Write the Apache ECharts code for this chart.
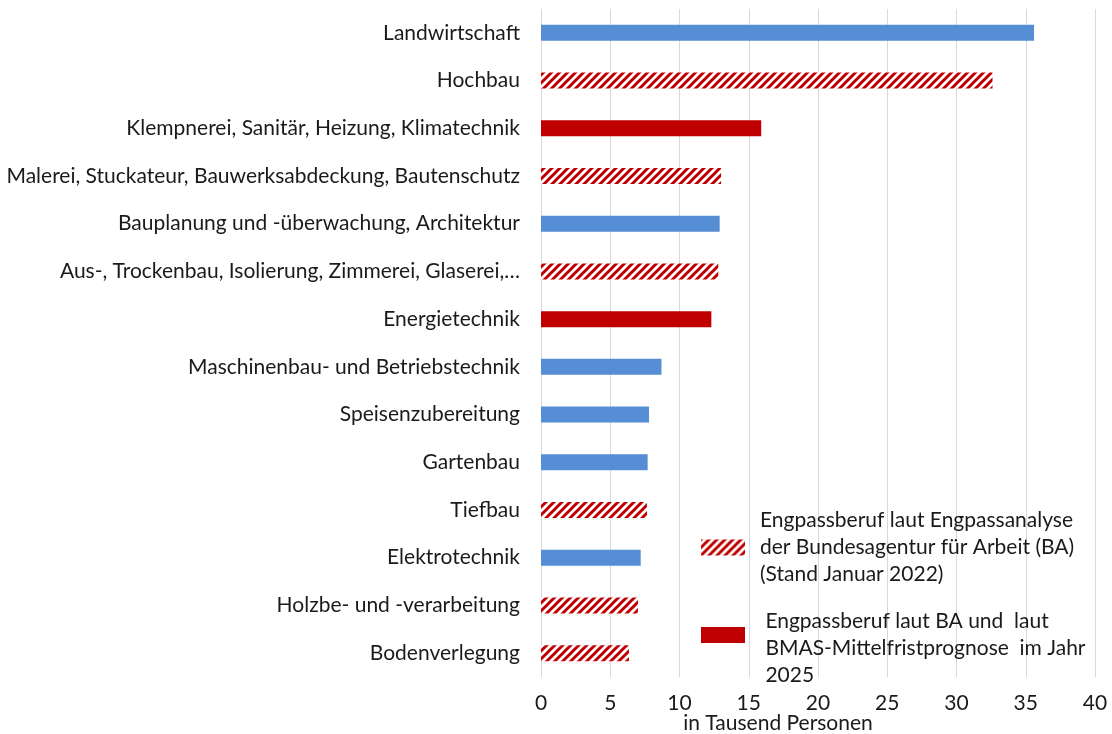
<!DOCTYPE html>
<html>
<head>
<meta charset="utf-8">
<script src="https://cdn.jsdelivr.net/npm/echarts@6/dist/echarts.min.js"></script>
<style>
    html, body { margin: 0; padding: 0; background: #fff; }
    #chart { width: 1112px; height: 734px; }
</style>
</head>
<body>
<div id="chart"></div>
<script>
const categories = [
    'Landwirtschaft',
    'Hochbau',
    'Klempnerei, Sanitär, Heizung, Klimatechnik',
    'Malerei, Stuckateur, Bauwerksabdeckung, Bautenschutz',
    'Bauplanung und -überwachung, Architektur',
    'Aus-, Trockenbau, Isolierung, Zimmerei, Glaserei,…',
    'Energietechnik',
    'Maschinenbau- und Betriebstechnik',
    'Speisenzubereitung',
    'Gartenbau',
    'Tiefbau',
    'Elektrotechnik',
    'Holzbe- und -verarbeitung',
    'Bodenverlegung'
];
const values = [35.6, 32.6, 15.9, 13.0, 12.9, 12.8, 12.3, 8.7, 7.8, 7.7, 7.65, 7.2, 7.0, 6.35];
// 'none' = kein Engpassberuf, 'ba' = Engpassanalyse BA, 'bmas' = BA + BMAS-Prognose
const kinds = ['none', 'ba', 'bmas', 'ba', 'none', 'ba', 'bmas', 'none', 'none', 'none', 'ba', 'none', 'ba', 'ba'];
const xTicks = [0, 5, 10, 15, 20, 25, 30, 35, 40];

const nameBA = 'Engpassberuf laut Engpassanalyse\nder Bundesagentur für Arbeit (BA)\n(Stand Januar 2022)';
const nameBMAS = ' Engpassberuf laut BA und  laut\n BMAS-Mittelfristprognose  im Jahr\n 2025';

const BLUE = '#558ED5';
const RED = '#C00000';
const FONT = 'Lato';
const FONT_SIZE = 21;
const TEXT_COLOR = '#1a1a1a';

function hatchPattern() {
    const c = document.createElement('canvas');
    c.width = 8;
    c.height = 8;
    const ctx = c.getContext('2d');
    ctx.fillStyle = '#fff';
    ctx.fillRect(0, 0, 8, 8);
    ctx.strokeStyle = RED;
    ctx.lineWidth = 3;
    ctx.beginPath();
    ctx.moveTo(-2, 10); ctx.lineTo(10, -2);
    ctx.moveTo(-6, 6); ctx.lineTo(6, -6);
    ctx.moveTo(2, 14); ctx.lineTo(14, 2);
    ctx.stroke();
    return { image: c, repeat: 'repeat' };
}

const pick = (kind) => values.map((v, i) => kinds[i] === kind ? v : '-');

const myChart = echarts.init(document.getElementById('chart'));

const seriesDefaults = {
    type: 'bar',
    stack: 'all',
    barWidth: 16,
    animation: false
};

const option = {
    textStyle: { fontFamily: FONT },
    grid: {
        left: 541,
        right: 17,
        top: 9,
        bottom: 57,
        outerBoundsMode: 'none'
    },
    legend: {
        data: [nameBA, nameBMAS],
        // leading blank line lifts the icon of the second entry like in the original
        formatter: (name) => name === nameBMAS ? '\n' + name : name,
        orient: 'vertical',
        left: 701,
        top: 507,
        padding: 0,
        icon: 'rect',
        itemWidth: 44,
        itemHeight: 16,
        itemGap: -7,
        selectedMode: false,
        textStyle: {
            fontFamily: FONT,
            fontSize: FONT_SIZE,
            lineHeight: 27,
            color: TEXT_COLOR,
            padding: [0, 0, 0, 10]
        }
    },
    xAxis: {
        type: 'value',
        min: xTicks[0],
        max: xTicks[xTicks.length - 1],
        interval: 5,
        name: 'in Tausend Personen',
        nameLocation: 'middle',
        nameGap: 36,
        nameMoveOverlap: false,
        nameTextStyle: {
            fontFamily: FONT,
            fontSize: FONT_SIZE,
            color: TEXT_COLOR,
            padding: [0, 80, 0, 0]
        },
        axisLine: { show: false },
        axisTick: { show: false },
        axisLabel: {
            fontFamily: FONT,
            fontSize: FONT_SIZE,
            color: TEXT_COLOR,
            margin: 16
        },
        splitLine: {
            lineStyle: { color: '#D9D9D9', width: 1 }
        }
    },
    yAxis: {
        type: 'category',
        data: categories,
        inverse: true,
        axisLine: { show: false },
        axisTick: { show: false },
        axisLabel: {
            fontFamily: FONT,
            fontSize: FONT_SIZE,
            color: TEXT_COLOR,
            margin: 21
        }
    },
    series: [
        {
            ...seriesDefaults,
            name: 'kein Engpassberuf',
            data: pick('none'),
            itemStyle: { color: BLUE }
        },
        {
            ...seriesDefaults,
            name: nameBA,
            data: pick('ba'),
            itemStyle: { color: hatchPattern() }
        },
        {
            ...seriesDefaults,
            name: nameBMAS,
            data: pick('bmas'),
            itemStyle: { color: RED }
        }
    ]
};

myChart.setOption(option);

window.onresize = function () {
    myChart.resize();
};
</script>
</body>
</html>
